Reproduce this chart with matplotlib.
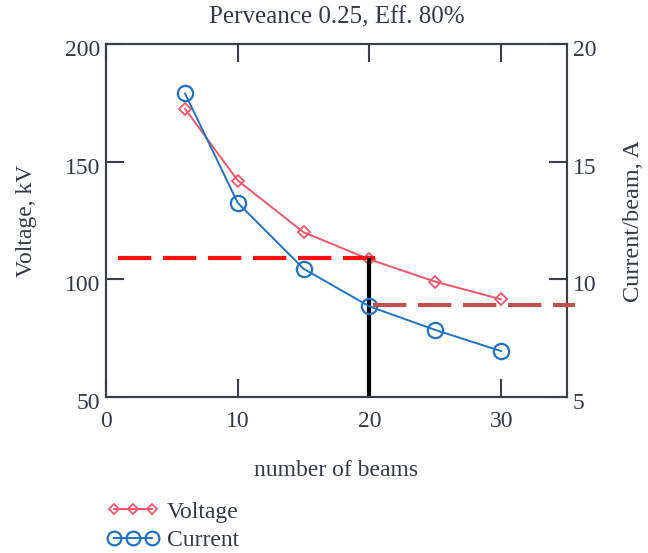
import matplotlib
matplotlib.use("Agg")
import matplotlib.pyplot as plt
import matplotlib.transforms as mtransforms
from matplotlib.ticker import FixedLocator

plt.rcParams['font.family'] = ['Liberation Serif', 'DejaVu Serif']

# Data
beams = [6, 10, 15, 20, 25, 30]
voltage_kv = [172.5, 142, 120, 108.5, 99, 91.5]
current_a = [17.9, 13.25, 10.45, 8.85, 7.85, 6.95]

x_ticks = [0, 10, 20, 30]
v_ticks = [50, 100, 150, 200]
i_ticks = [5, 10, 15, 20]

design_beams = 20
design_voltage = 109
design_current = 8.9

red = '#f2566a'
blue = '#1f73c8'
axis_col = '#3a3f4a'
text_col = '#333a44'
fs = 17

fig = plt.figure(figsize=(6.48, 5.53), dpi=100)
ax = fig.add_axes([0.1636, 0.2821, 0.7114, 0.6383])
ax2 = ax.twinx()

ax.set_xlim(0, 35)
ax.set_ylim(50, 200)
ax2.set_ylim(5, 20)

lv, = ax.plot(beams, voltage_kv, color=red, lw=1.4, marker='D', ms=6,
              mfc='none', mec=red, mew=1.3, label='Voltage')
li, = ax2.plot(beams, current_a, color=blue, lw=1.4, marker='o', ms=11,
               mfc='none', mec=blue, mew=1.6, label='Current')

# Design point guides
ax.plot([0.9, design_beams + 0.4], [design_voltage, design_voltage],
        color='#ff1010', lw=3, dashes=(8, 2.8), zorder=4)
ax2.plot([design_beams + 0.3, 35.6], [design_current, design_current],
         color='#c0504d', lw=3, dashes=(8, 2.8), zorder=4, clip_on=False)
ax.plot([design_beams, design_beams], [50, design_voltage],
        color='black', lw=3, zorder=5, solid_capstyle='butt')

for a in (ax, ax2):
    for s in a.spines.values():
        s.set_color(axis_col)
        s.set_linewidth(1.5)

ax.xaxis.set_major_locator(FixedLocator(x_ticks))
ax.yaxis.set_major_locator(FixedLocator(v_ticks))
ax2.yaxis.set_major_locator(FixedLocator(i_ticks))
ax.tick_params(axis='both', direction='in', length=13, width=1.5,
               color=axis_col, labelsize=fs, labelcolor=text_col, top=True,
               pad=4)
ax.tick_params(axis='x', pad=10)
ax2.tick_params(axis='y', direction='in', length=13, width=1.5,
                color=axis_col, labelsize=fs, labelcolor=text_col, pad=4)

# vertical tick labels sit slightly below their ticks
shift = mtransforms.ScaledTranslation(0, -4 / 100, fig.dpi_scale_trans)
for lab in ax.get_yticklabels() + ax2.get_yticklabels():
    lab.set_transform(lab.get_transform() + shift)

ax.set_xlabel('number of beams', fontsize=fs, color=text_col, labelpad=20)
ax.set_ylabel('Voltage, kV', fontsize=fs, color=text_col, labelpad=20)
ax2.set_ylabel('Current/beam, A', fontsize=17.5, color=text_col, labelpad=19)
ax.set_title('Perveance 0.25, Eff. 80%', fontsize=18, color=text_col, pad=15)

fig.legend(handles=[lv, li], loc='upper left', bbox_to_anchor=(0.165, 0.094),
           frameon=False, numpoints=3, handlelength=2.2, fontsize=fs,
           labelcolor=text_col, markerscale=0.9, handletextpad=0.35,
           labelspacing=0.3, borderaxespad=0, borderpad=0)

fig.savefig('out.png', dpi=100)
